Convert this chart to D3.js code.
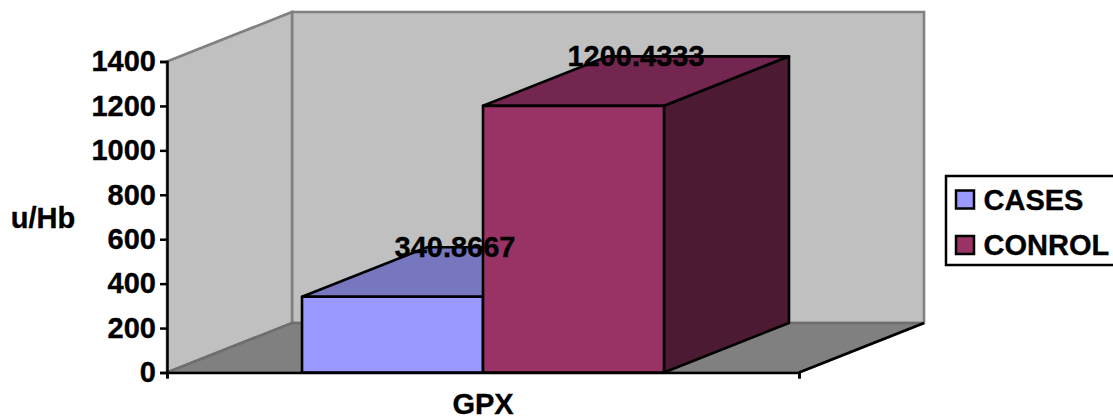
<!DOCTYPE html>
<html>
<head>
<meta charset="utf-8">
<script src="https://cdn.jsdelivr.net/npm/d3@7/dist/d3.min.js"></script>
<style>
  html, body { margin: 0; padding: 0; background: #fff; }
  svg { display: block; }
  text { font-family: "Liberation Sans", Arial, sans-serif; font-weight: bold; fill: #000; stroke: #000; stroke-width: 0.35px; }
</style>
</head>
<body>
<svg id="chart" width="1113" height="419"></svg>
<script>
const category = "GPX";
const seriesNames = ["CASES", "CONROL"];
const seriesValues = [340.8667, 1200.4333];
const valueTicks = [0, 200, 400, 600, 800, 1000, 1200, 1400];
const frontColors = ["#9999ff", "#993366"];
const topColors = ["#7777bf", "#732650"];
const sideColors = ["#5c5c99", "#4d1a33"];

const svg = d3.select("#chart");
const fontSize = 29;

// Oblique projection: the depth of the box shifts everything right and up.
const depthX = 125, depthY = -49.5;
const y = d3.scaleLinear().domain([0, 1400]).range([372.5, 61.5]);
const xFrame = d3.scaleLinear().domain([0, 1]).range([167, 799]);
const x = d3.scaleBand().domain(seriesNames).range([167, 799])
  .paddingInner(0).paddingOuter(0.746);

const poly = pts => pts.map(p => p.join(",")).join(" ");
const back = ([px, py]) => [px + depthX, py + depthY];

const x0 = xFrame(0), x1 = xFrame(1), y0 = y(0), yTop = y(1400);

// Back wall, side wall and floor of the chart box
const walls = svg.append("g");
walls.append("polygon")
  .attr("points", poly([back([x0, yTop]), back([x1, yTop]), back([x1, y0]), back([x0, y0])]))
  .attr("fill", "#c0c0c0").attr("stroke", "#808080").attr("stroke-width", 2.6);
walls.append("polygon")
  .attr("points", poly([[x0, yTop], back([x0, yTop]), back([x0, y0]), [x0, y0]]))
  .attr("fill", "#c0c0c0").attr("stroke", "#808080").attr("stroke-width", 2.6);
walls.append("polygon")
  .attr("points", poly([[x0, y0], back([x0, y0]), back([x1, y0]), [x1, y0]]))
  .attr("fill", "#808080").attr("stroke", "#6e6e6e").attr("stroke-width", 2.6);
walls.append("line")
  .attr("x1", x1).attr("y1", y0)
  .attr("x2", back([x1, y0])[0]).attr("y2", back([x1, y0])[1])
  .attr("stroke", "#000").attr("stroke-width", 2.5);

// Bars as three visible faces each
const bars = svg.append("g").attr("stroke", "#000").attr("stroke-width", 2.6).attr("stroke-linejoin", "round");
seriesNames.forEach((name, i) => {
  const left = x(name), right = left + x.bandwidth();
  const top = y(seriesValues[i]);
  const g = bars.append("g");
  g.append("polygon")
    .attr("points", poly([[right, top], back([right, top]), back([right, y0]), [right, y0]]))
    .attr("fill", sideColors[i]);
  g.append("polygon")
    .attr("points", poly([[left, top], back([left, top]), back([right, top]), [right, top]]))
    .attr("fill", topColors[i]);
  g.append("polygon")
    .attr("points", poly([[left, top], [right, top], [right, y0], [left, y0]]))
    .attr("fill", frontColors[i]);
});

// Value labels sit over the top face of each bar
svg.append("g").selectAll("text").data(seriesNames).join("text")
  .attr("x", (d) => x(d) + x.bandwidth() / 2 + depthX * 0.5)
  .attr("y", (d, i) => y(seriesValues[i]) + depthY + 9.8)
  .attr("text-anchor", "middle")
  .attr("font-size", fontSize)
  .text((d, i) => seriesValues[i]);

// Value axis
const yAxis = svg.append("g")
  .attr("transform", `translate(${x0},0)`)
  .call(d3.axisLeft(y).tickValues(valueTicks).tickSize(7).tickPadding(4).tickFormat(d3.format("d")));
yAxis.selectAll("path").attr("stroke", "#000").attr("stroke-width", 2.5);
yAxis.selectAll("line").attr("stroke", "#000").attr("stroke-width", 2.5);
yAxis.selectAll("text").attr("font-size", fontSize).attr("font-family", '"Liberation Sans", Arial, sans-serif');

// Category axis: only the two end ticks are marked
const xAxis = svg.append("g")
  .attr("transform", `translate(0,${y0})`)
  .call(d3.axisBottom(xFrame).tickValues([0, 1]).tickSize(6).tickFormat(""));
xAxis.selectAll("path").attr("stroke", "#000").attr("stroke-width", 2.5);
xAxis.selectAll("line").attr("stroke", "#000").attr("stroke-width", 2.5);

svg.append("text")
  .attr("x", (x0 + x1) / 2).attr("y", 414)
  .attr("text-anchor", "middle").attr("font-size", fontSize)
  .text(category);

svg.append("text")
  .attr("x", 43).attr("y", 228)
  .attr("text-anchor", "middle").attr("font-size", fontSize)
  .text("u/Hb");

// Legend
const legend = svg.append("g");
legend.append("rect")
  .attr("x", 946).attr("y", 176).attr("width", 170).attr("height", 89)
  .attr("fill", "#fff").attr("stroke", "#000").attr("stroke-width", 2.5);
const rows = legend.selectAll("g").data(seriesNames).join("g")
  .attr("transform", (d, i) => `translate(0,${190.5 + i * 45.5})`);
rows.append("rect")
  .attr("x", 956).attr("y", 0).attr("width", 18).attr("height", 18)
  .attr("fill", (d, i) => frontColors[i]).attr("stroke", "#000").attr("stroke-width", 2.5);
rows.append("text")
  .attr("x", 983.5).attr("y", 19)
  .attr("font-size", fontSize)
  .text(d => d);
</script>
</body>
</html>
